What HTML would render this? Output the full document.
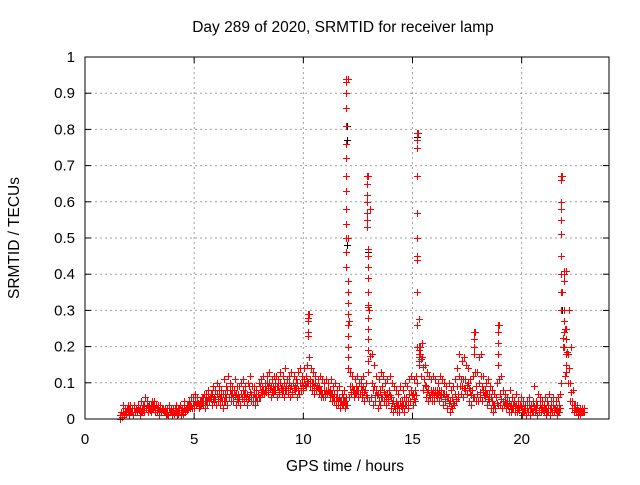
<!DOCTYPE html>
<html><head><meta charset="utf-8"><style>
body{margin:0;background:#fff}
svg text{font-family:"Liberation Sans",sans-serif;fill:#000}
</style></head><body>
<svg id="chart" width="640" height="480" viewBox="0 0 640 480" xmlns="http://www.w3.org/2000/svg">
<rect width="640" height="480" fill="#fff"/>
<text x="343" y="32" font-size="15.5" text-anchor="middle">Day 289 of 2020, SRMTID for receiver lamp</text>
<text x="345" y="471" font-size="15.5" text-anchor="middle">GPS time / hours</text>
<text x="19" y="238" font-size="15.5" text-anchor="middle" transform="rotate(-90 19 238)">SRMTID / TECUs</text>
<g id="grid"></g><g id="marks"></g><g id="axes"></g>
</svg>
<script>
const xTicks=[0,5,10,15,20];
const yTicks=[0,0.1,0.2,0.3,0.4,0.5,0.6,0.7,0.8,0.9,1];
const yTickLabels=["0","0.1","0.2","0.3","0.4","0.5","0.6","0.7","0.8","0.9","1"];
const startHour=1.6, stepHour=0.1;
const loVals=[0.00,0.01,0.01,0.02,
0.01,0.02,0.01,0.02,0.02,0.01,0.02,0.02,0.03,0.02,
0.02,0.03,0.02,0.02,0.01,0.02,0.02,0.01,0.01,0.02,
0.01,0.02,0.01,0.02,0.01,0.02,0.02,0.03,0.03,0.03,
0.03,0.04,0.03,0.04,0.04,0.03,0.05,0.05,0.04,0.05,
0.04,0.05,0.04,0.03,0.05,0.04,0.06,0.05,0.05,0.04,
0.05,0.04,0.06,0.05,0.04,0.06,0.05,0.05,0.04,0.05,
0.06,0.07,0.07,0.08,0.07,0.06,0.07,0.08,0.06,0.07,
0.07,0.06,0.08,0.07,0.06,0.07,0.08,0.06,0.07,0.08,
0.08,0.09,0.10,0.09,0.08,0.07,0.08,0.07,0.06,0.06,
0.06,0.07,0.06,0.05,0.05,0.04,0.04,0.03,0.04,0.03,
0.04,0.06,0.07,0.06,0.07,0.06,0.07,0.06,0.05,0.06,
0.05,0.06,0.04,0.05,0.03,0.04,0.06,0.05,0.04,0.05,
0.03,0.02,0.03,0.02,0.02,0.03,0.02,0.04,0.03,0.05,
0.04,0.05,0.10,0.15,0.12,0.08,0.06,0.05,0.06,0.05,
0.05,0.06,0.05,0.06,0.04,0.05,0.03,0.02,0.03,0.04,
0.05,0.06,0.07,0.06,0.08,0.07,0.05,0.04,0.06,0.05,
0.05,0.06,0.05,0.06,0.04,0.05,0.03,0.02,0.03,0.04,
0.04,0.03,0.04,0.03,0.02,0.02,0.03,0.02,0.02,0.03,
0.01,0.02,0.01,0.02,0.01,0.02,0.02,0.01,0.02,0.02,
0.02,0.01,0.02,0.01,0.02,0.02,0.01,0.02,0.10,0.20,
0.12,0.10,0.05,0.03,0.02,0.02,0.01,0.02,0.02];
const midVals=[0.01,0.02,0.02,0.03,
0.03,0.02,0.03,0.03,0.03,0.03,0.03,0.04,0.04,0.03,
0.04,0.04,0.03,0.03,0.03,0.03,0.02,0.02,0.03,0.02,
0.02,0.03,0.02,0.03,0.02,0.03,0.03,0.04,0.04,0.05,
0.05,0.05,0.04,0.05,0.06,0.05,0.06,0.06,0.07,0.06,
0.07,0.07,0.06,0.07,0.07,0.08,0.08,0.07,0.08,0.07,
0.07,0.07,0.08,0.07,0.07,0.09,0.07,0.07,0.06,0.07,
0.09,0.09,0.08,0.10,0.10,0.09,0.09,0.10,0.09,0.10,
0.09,0.10,0.09,0.10,0.09,0.10,0.09,0.10,0.10,0.10,
0.11,0.12,0.24,0.11,0.10,0.10,0.09,0.09,0.08,0.08,
0.08,0.08,0.08,0.07,0.07,0.06,0.06,0.05,0.06,0.05,
0.50,0.09,0.09,0.08,0.09,0.08,0.09,0.09,0.08,0.57,
0.30,0.10,0.09,0.08,0.07,0.08,0.09,0.07,0.07,0.08,
0.06,0.05,0.05,0.04,0.05,0.05,0.06,0.06,0.07,0.08,
0.07,0.08,0.45,0.18,0.17,0.11,0.09,0.08,0.08,0.08,
0.08,0.08,0.08,0.08,0.07,0.07,0.06,0.05,0.06,0.07,
0.09,0.12,0.11,0.11,0.11,0.10,0.08,0.08,0.20,0.09,
0.10,0.12,0.08,0.08,0.07,0.07,0.05,0.04,0.06,0.18,
0.07,0.05,0.05,0.04,0.05,0.04,0.04,0.04,0.03,0.04,
0.03,0.03,0.03,0.04,0.03,0.05,0.03,0.04,0.04,0.03,
0.04,0.03,0.04,0.03,0.04,0.03,0.03,0.04,0.35,0.30,
0.25,0.18,0.10,0.05,0.03,0.03,0.02,0.02,0.02];
const hiVals=[0.02,0.04,0.03,0.04,
0.04,0.03,0.04,0.03,0.04,0.05,0.04,0.06,0.05,0.04,
0.05,0.05,0.04,0.04,0.04,0.03,0.03,0.03,0.04,0.03,
0.03,0.04,0.03,0.04,0.03,0.05,0.04,0.05,0.06,0.06,
0.07,0.06,0.05,0.06,0.07,0.07,0.08,0.07,0.09,0.08,
0.10,0.09,0.08,0.11,0.09,0.12,0.10,0.09,0.11,0.09,
0.09,0.10,0.11,0.09,0.10,0.12,0.09,0.09,0.08,0.10,
0.11,0.12,0.10,0.12,0.13,0.11,0.12,0.12,0.11,0.13,
0.12,0.14,0.11,0.12,0.13,0.12,0.11,0.13,0.14,0.12,
0.14,0.15,0.29,0.14,0.13,0.12,0.11,0.12,0.11,0.10,
0.11,0.10,0.11,0.09,0.10,0.08,0.09,0.07,0.08,0.06,
0.94,0.13,0.12,0.11,0.12,0.10,0.11,0.12,0.10,0.67,
0.58,0.18,0.15,0.12,0.11,0.13,0.12,0.10,0.11,0.12,
0.10,0.09,0.08,0.07,0.09,0.08,0.10,0.09,0.11,0.12,
0.11,0.12,0.79,0.20,0.21,0.15,0.13,0.12,0.11,0.12,
0.11,0.10,0.12,0.11,0.10,0.09,0.10,0.08,0.09,0.11,
0.14,0.18,0.16,0.17,0.15,0.14,0.11,0.12,0.24,0.13,
0.17,0.18,0.12,0.10,0.11,0.09,0.08,0.07,0.10,0.26,
0.12,0.08,0.07,0.06,0.08,0.06,0.05,0.07,0.05,0.06,
0.05,0.04,0.05,0.06,0.04,0.09,0.05,0.07,0.06,0.05,
0.06,0.05,0.07,0.05,0.06,0.05,0.06,0.07,0.67,0.40,
0.41,0.30,0.20,0.08,0.04,0.04,0.03,0.03,0.03];
const spikeHours=[10.2,11.97,12.03,12.9,12.95,15.2,15.3,17.8,18.9,21.8,21.95,22.05];
const spikeVals=[
[0.29,0.28,0.27,0.24,0.23],
[0.94,0.93,0.90,0.86,0.81,0.76,0.72,0.67,0.63,0.58,0.54,0.50,0.46,0.42],
[0.38,0.35,0.32,0.29,0.26,0.23,0.20,0.17,0.14],
[0.67,0.65,0.62,0.60,0.57,0.55,0.53],
[0.47,0.45,0.42,0.39,0.35,0.31,0.28,0.25,0.22,0.19,0.16,0.13],
[0.79,0.77,0.75,0.67,0.57,0.50,0.44,0.35,0.26,0.20],
[0.20,0.19,0.18,0.17,0.16,0.15],
[0.24,0.22,0.20,0.18],
[0.26,0.24,0.21,0.18,0.15],
[0.67,0.66,0.60,0.58,0.55,0.51,0.45,0.40,0.35,0.30],
[0.41,0.40,0.38,0.30,0.27,0.24,0.20],
[0.25,0.22,0.18,0.15,0.13]];
const blackHours=[12.0,12.0,12.0,12.95,12.95,12.9,15.2,15.2,10.2,21.8,21.8,21.85];
const blackVals=[0.81,0.77,0.48,0.47,0.46,0.60,0.78,0.75,0.27,0.45,0.51,0.30];

const XMAX=24;
const X0=85,X1=609,Y0=419,Y1=57;
const xs=h=>X0+(h/XMAX)*(X1-X0);
const ys=v=>Y0-v*(Y0-Y1);
const NS="http://www.w3.org/2000/svg";
function mk(tag,parent,attrs){const e=document.createElementNS(NS,tag);for(const k in attrs)e.setAttribute(k,attrs[k]);parent.appendChild(e);return e;}
const grid=document.getElementById('grid'),axes=document.getElementById('axes'),marks=document.getElementById('marks');
yTicks.forEach((v,i)=>{
  const y=ys(v);
  if(i>0&&i<yTicks.length-1){const g=mk('line',grid,{x1:X0,x2:X1,y1:y,y2:y,stroke:'#a0a0a0','stroke-dasharray':'2,3'});
  
  }
  mk('line',axes,{x1:X0,x2:X0+6,y1:y,y2:y,stroke:'#000'});
  mk('line',axes,{x1:X1-6,x2:X1,y1:y,y2:y,stroke:'#000'});
  const t=mk('text',axes,{x:X0-10,y:y+5,'font-size':15,'text-anchor':'end'});t.textContent=yTickLabels[i];
  
  
});
xTicks.forEach((h,i)=>{
  const x=xs(h);
  if(i>0){const g=mk('line',grid,{x1:x,x2:x,y1:Y0,y2:Y1,stroke:'#a0a0a0','stroke-dasharray':'2,3'});
  
  }
  mk('line',axes,{x1:x,x2:x,y1:Y0,y2:Y0-6,stroke:'#000'});
  mk('line',axes,{x1:x,x2:x,y1:Y1,y2:Y1+6,stroke:'#000'});
  const t=mk('text',axes,{x:x,y:Y0+25,'font-size':15,'text-anchor':'middle'});t.textContent=String(h);
  
  
});
const frame=mk('rect',axes,{x:X0,y:Y1,width:X1-X0,height:Y0-Y1,fill:'none',stroke:'#000'});


let d='';
function plus(h,v){const x=Math.round(xs(h))+0.5,y=Math.round(ys(v))+0.5;return `M${x-3.5} ${y}h7M${x} ${y-3.5}v7`;}
blackHours.forEach((h,i)=>{d+=plus(h,blackVals[i]);});
const bp=mk('path',marks,{d:d,stroke:'#000',fill:'none','stroke-width':1});


let r='';
loVals.forEach((v,i)=>{const h=startHour+i*stepHour;r+=plus(h,v)+plus(h+0.025,midVals[i])+plus(h+0.05,hiVals[i])+plus(h+0.075,(v+midVals[i])/2);});
spikeHours.forEach((h,i)=>{spikeVals[i].forEach(v=>{r+=plus(h,v);});});
const rp=mk('path',marks,{d:r,stroke:'#ff0000',fill:'none','stroke-width':1});


</script>
</body></html>
